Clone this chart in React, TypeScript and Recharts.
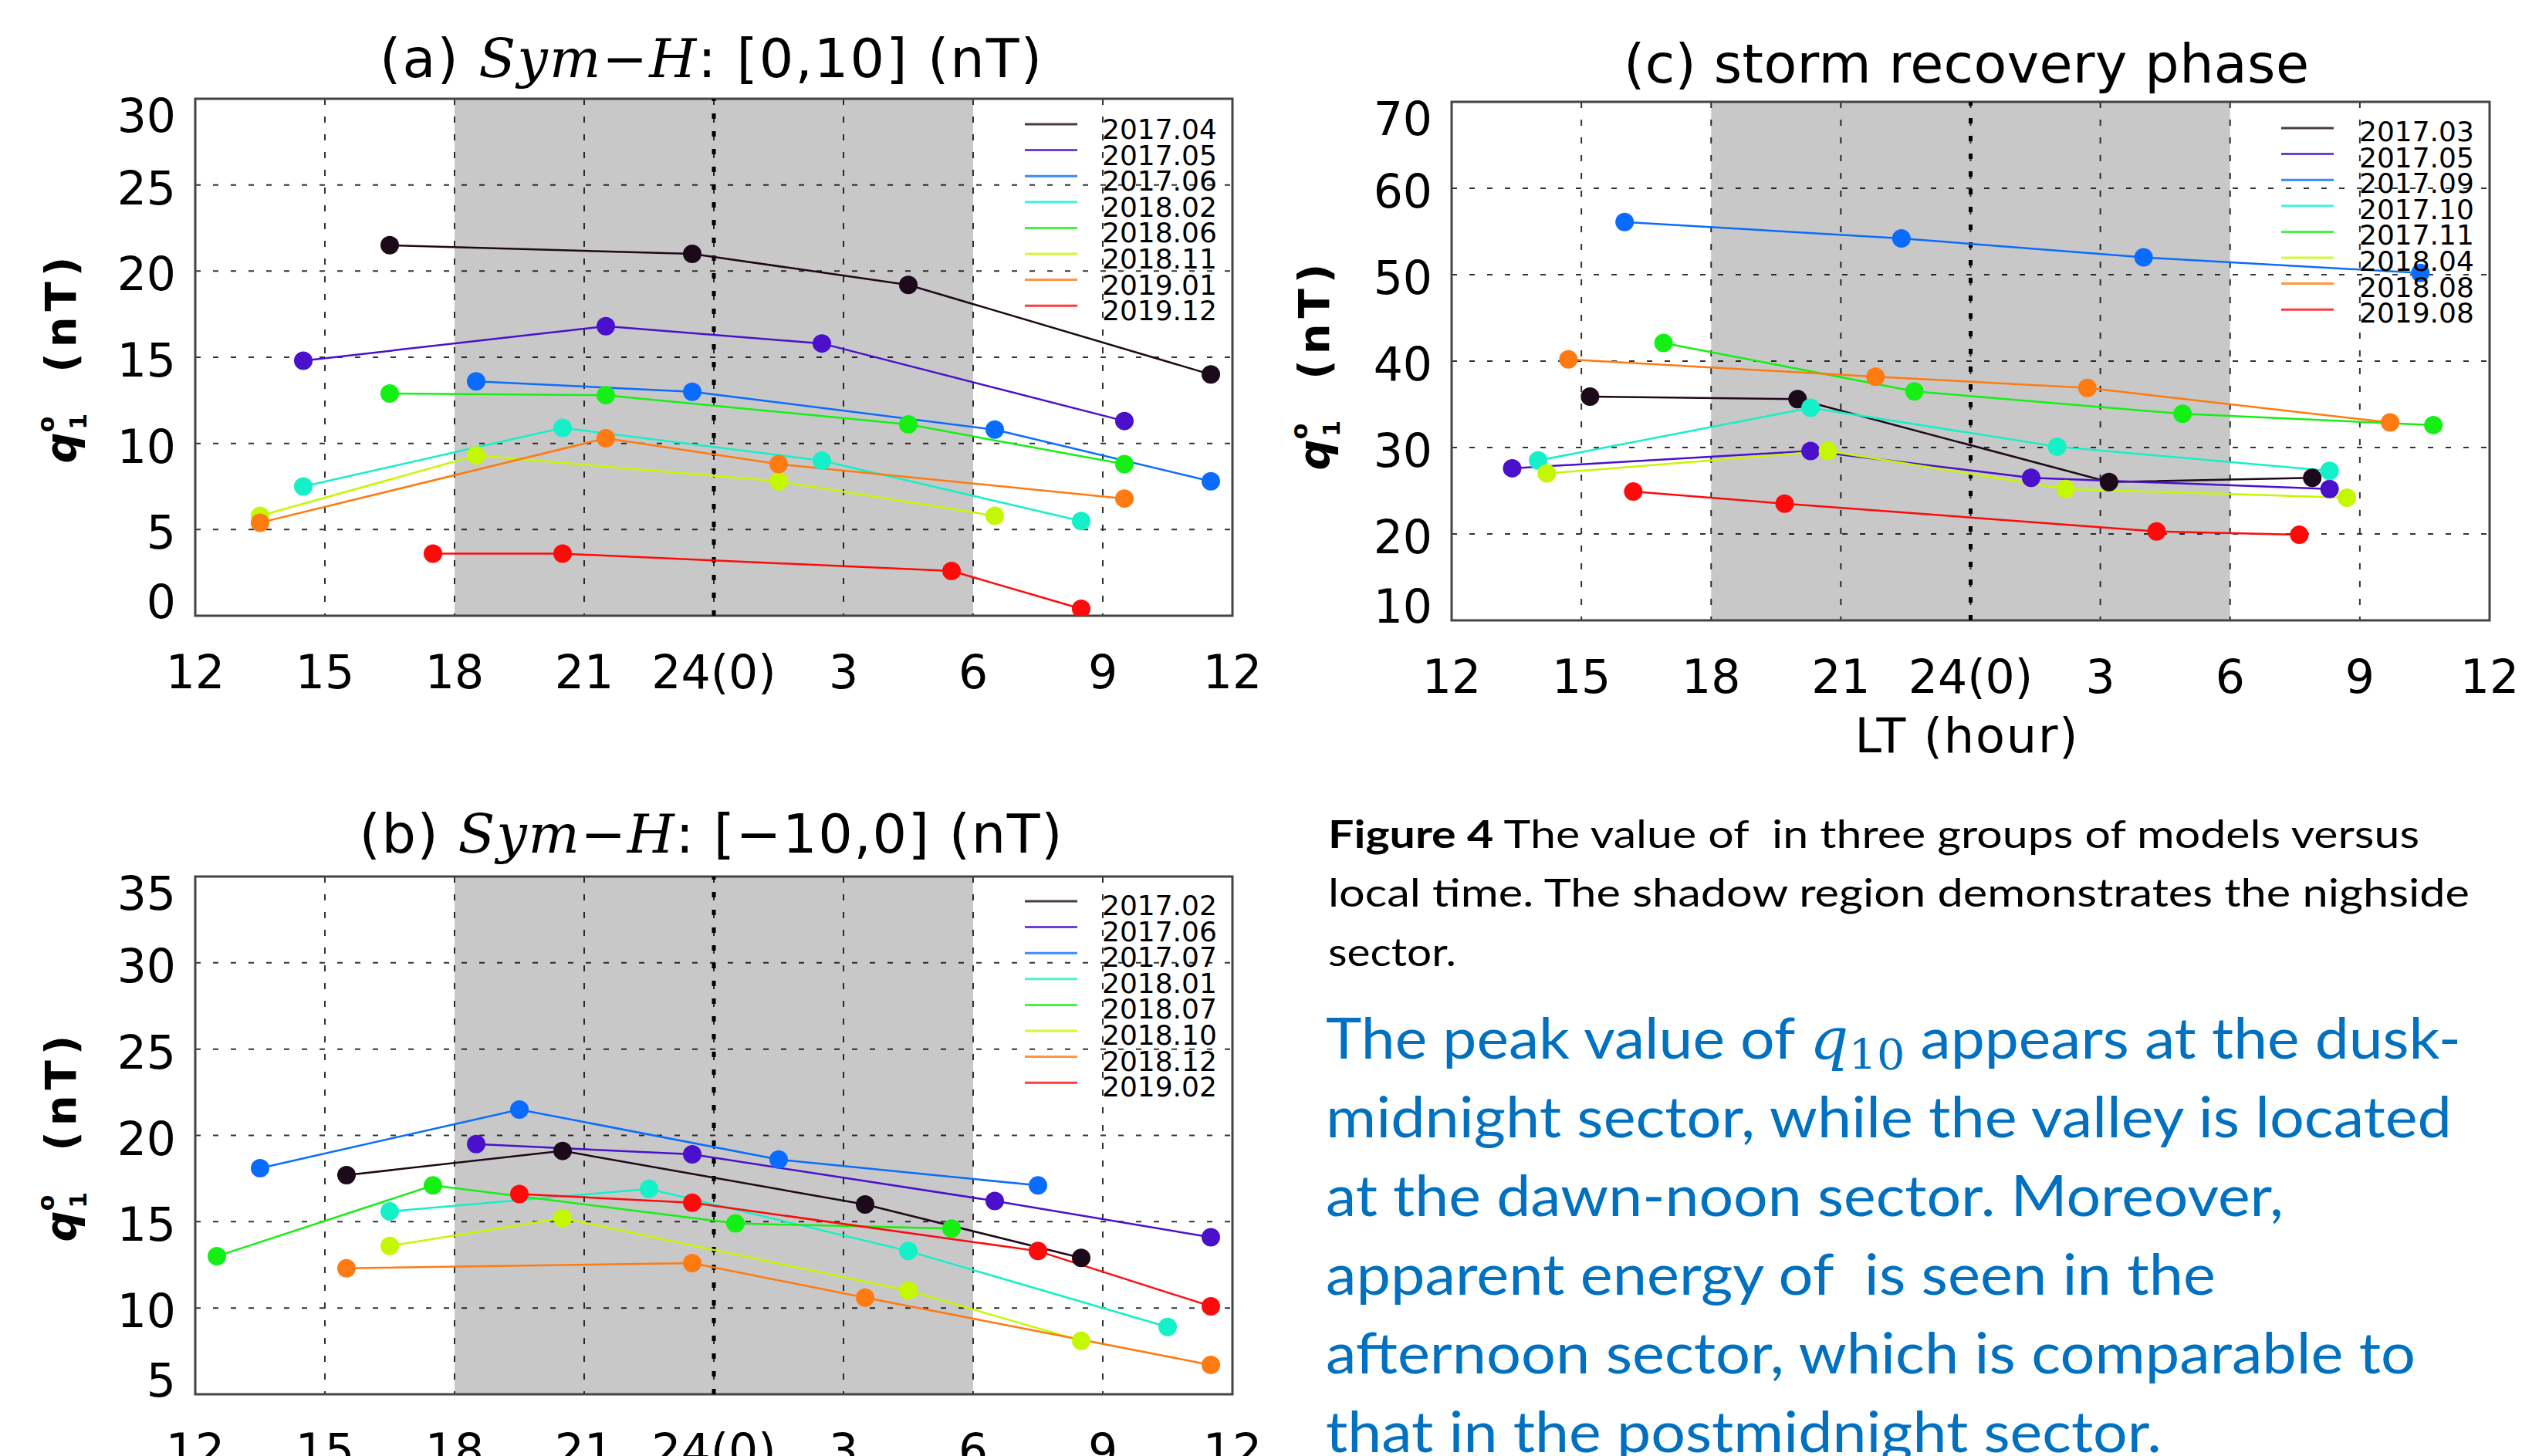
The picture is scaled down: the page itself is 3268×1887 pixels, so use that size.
import React from 'react';
import { LineChart, Line, XAxis, YAxis, CartesianGrid, ReferenceArea, ReferenceLine } from 'recharts';

// local time axis: 12 .. 24(0) .. 12 (next day hours stored as 24+h)
const hourTicks = [12, 15, 18, 21, 24, 27, 30, 33, 36];
const hourLabels = ['12', '15', '18', '21', '24(0)', '3', '6', '9', '12'];
const gridHours = [15, 18, 21, 24, 27, 30, 33];

const seriesColors = ['#1c0a1a', '#4a10cc', '#0a6cff', '#14f0c8', '#14f014', '#c4f800', '#ff7a10', '#ff0a0a'];

// (a) Sym-H: [0,10]
const aLabels = ['2017.04', '2017.05', '2017.06', '2018.02', '2018.06', '2018.11', '2019.01', '2019.12'];
const aHours = [
  [16.5, 23.5, 28.5, 35.5],
  [14.5, 21.5, 26.5, 33.5],
  [18.5, 23.5, 30.5, 35.5],
  [14.5, 20.5, 26.5, 32.5],
  [16.5, 21.5, 28.5, 33.5],
  [13.5, 18.5, 25.5, 30.5],
  [13.5, 21.5, 25.5, 33.5],
  [17.5, 20.5, 29.5, 32.5],
];
const aValues = [
  [21.5, 21.0, 19.2, 14.0],
  [14.8, 16.8, 15.8, 11.3],
  [13.6, 13.0, 10.8, 7.8],
  [7.5, 10.9, 9.0, 5.5],
  [12.9, 12.8, 11.1, 8.8],
  [5.8, 9.3, 7.8, 5.8],
  [5.4, 10.3, 8.8, 6.8],
  [3.6, 3.6, 2.6, 0.4],
];
const aTicks = [0, 5, 10, 15, 20, 25, 30];

// (b) Sym-H: [-10,0]
const bLabels = ['2017.02', '2017.06', '2017.07', '2018.01', '2018.07', '2018.10', '2018.12', '2019.02'];
const bHours = [
  [15.5, 20.5, 27.5, 32.5],
  [18.5, 23.5, 30.5, 35.5],
  [13.5, 19.5, 25.5, 31.5],
  [16.5, 22.5, 28.5, 34.5],
  [12.5, 17.5, 24.5, 29.5],
  [16.5, 20.5, 28.5, 32.5],
  [15.5, 23.5, 27.5, 35.5],
  [19.5, 23.5, 31.5, 35.5],
];
const bValues = [
  [17.7, 19.1, 16.0, 12.9],
  [19.5, 18.9, 16.2, 14.1],
  [18.1, 21.5, 18.6, 17.1],
  [15.6, 16.9, 13.3, 8.9],
  [13.0, 17.1, 14.9, 14.6],
  [13.6, 15.2, 11.0, 8.1],
  [12.3, 12.6, 10.6, 6.7],
  [16.6, 16.1, 13.3, 10.1],
];
const bTicks = [5, 10, 15, 20, 25, 30, 35];

// (c) storm recovery phase
const cLabels = ['2017.03', '2017.05', '2017.09', '2017.10', '2017.11', '2018.04', '2018.08', '2019.08'];
const cHours = [
  [15.2, 20.0, 27.2, 31.9],
  [13.4, 20.3, 25.4, 32.3],
  [16.0, 22.4, 28.0, 34.4],
  [14.0, 20.3, 26.0, 32.3],
  [16.9, 22.7, 28.9, 34.7],
  [14.2, 20.7, 26.2, 32.7],
  [14.7, 21.8, 26.7, 33.7],
  [16.2, 19.7, 28.3, 31.6],
];
const cValues = [
  [35.9, 35.6, 26.0, 26.5],
  [27.6, 29.6, 26.5, 25.2],
  [56.1, 54.2, 52.0, 50.2],
  [28.5, 34.6, 30.1, 27.3],
  [42.1, 36.5, 33.9, 32.6],
  [27.0, 29.6, 25.2, 24.2],
  [40.2, 38.2, 36.9, 32.9],
  [24.9, 23.5, 20.3, 19.9],
];
const cTicks = [10, 20, 30, 40, 50, 60, 70];

const axisFont = "'DejaVu Sans', 'Liberation Sans', sans-serif";
const serifFont = "'DejaVu Serif', 'Liberation Serif', serif";
const textFont = "Lato, 'Open Sans', sans-serif";

const XTick = (props: any) => {
  const { x, y, payload } = props;
  const i = hourTicks.indexOf(payload.value);
  return (
    <text x={x} y={y + 94} textAnchor="middle" fontFamily={axisFont} fontSize={60} fill="#000">
      {hourLabels[i]}
    </text>
  );
};

const makeYTick = (lo: number, hi: number) => (props: any) => {
  const { x, y, payload } = props;
  const v = payload.value;
  const dy = v === hi ? 43 : v === lo ? 3 : 25;
  return (
    <text x={x - 25} y={y + dy} textAnchor="end" fontFamily={axisFont} fontSize={60} fill="#000">
      {v}
    </text>
  );
};

interface PanelProps {
  left: number;
  top: number;
  width: number;
  height: number;
  margin: { top: number; right: number; left: number; bottom: number };
  yWidth: number;
  xHeight: number;
  labels: string[];
  hours: number[][];
  values: number[][];
  yTicks: number[];
  title: React.ReactNode;
  titleX: number;
  titleY: number;
  titleLen: number;
  yLabelX: number;
  yLabelY: number;
  legendLineX: number;
  legendTextX: number;
  legendY: number;
  legendDy: number;
  xLabel?: boolean;
}

const Panel = (p: PanelProps) => {
  const lo = p.yTicks[0];
  const hi = p.yTicks[p.yTicks.length - 1];
  const YTick = makeYTick(lo, hi);
  return (
    <div style={{ position: 'absolute', left: p.left, top: p.top, width: p.width, height: p.height }}>
      <LineChart width={p.width} height={p.height} margin={p.margin}>
        <XAxis
          type="number"
          dataKey="x"
          domain={[12, 36]}
          ticks={hourTicks}
          interval={0}
          allowDataOverflow
          height={p.xHeight}
          axisLine={false}
          tickLine={false}
          tickSize={0}
          tickMargin={0}
          tick={<XTick />}
        />
        <YAxis
          type="number"
          domain={[lo, hi]}
          ticks={p.yTicks}
          interval={0}
          allowDataOverflow
          width={p.yWidth}
          axisLine={false}
          tickLine={false}
          tickSize={0}
          tickMargin={0}
          tick={<YTick />}
        />
        <ReferenceArea x1={18} x2={30} fill="#000" fillOpacity={0.215} stroke="none" />
        <CartesianGrid horizontal={true} vertical={false} stroke="#333" strokeWidth={2} strokeDasharray="7 16" />
        <CartesianGrid horizontal={false} vertical={true} verticalValues={gridHours} stroke="#333" strokeWidth={2} strokeDasharray="8 15" />
        <ReferenceLine x={24} stroke="#000" strokeWidth={5} strokeDasharray="7 16" />
        <ReferenceArea x1={12} x2={36} y1={lo} y2={hi} fill="none" stroke="#444" strokeWidth={3} />
        {p.labels.map((name, i) => (
          <Line
            key={name}
            name={name}
            data={p.hours[i].map((h, j) => ({ x: h, y: p.values[i][j] }))}
            dataKey="y"
            stroke={seriesColors[i]}
            strokeWidth={2.5}
            dot={{ r: 12, fill: seriesColors[i], stroke: seriesColors[i], strokeWidth: 0 }}
            activeDot={false}
            isAnimationActive={false}
          />
        ))}
      </LineChart>
      <svg
        width={p.width}
        height={p.height}
        style={{ position: 'absolute', left: 0, top: 0, pointerEvents: 'none', overflow: 'visible' }}
      >
        <text
          x={p.titleX}
          y={p.titleY}
          textAnchor="middle"
          fontFamily={axisFont}
          fontSize={70}
          textLength={p.titleLen}
          lengthAdjust="spacing"
          xmlSpace="preserve"
        >
          {p.title}
        </text>
        <text
          transform={`translate(${p.yLabelX},${p.yLabelY}) rotate(-90)`}
          textAnchor="middle"
          fontFamily={axisFont}
          fontWeight="bold"
          fontSize={56}
          xmlSpace="preserve"
        >
          <tspan fontStyle="italic">q</tspan>
          <tspan fontSize={30} dy={-28}>o</tspan>
          <tspan fontSize={30} dx={-17} dy={42}>1</tspan>
          <tspan dy={-14} letterSpacing={7}>{'  (nT)'}</tspan>
        </text>
        {p.xLabel && (
          <text x={p.titleX} y={975} textAnchor="middle" fontFamily={axisFont} fontSize={62} textLength={289} lengthAdjust="spacing">
            LT (hour)
          </text>
        )}
        {p.labels.map((name, i) => {
          const ly = p.legendY + i * 33.6;
          return (
            <g key={name}>
              <line x1={p.legendLineX} x2={p.legendLineX + 68} y1={ly} y2={ly} stroke={seriesColors[i]} strokeOpacity={0.8} strokeWidth={3} />
              <text x={p.legendTextX} y={ly + p.legendDy} fontFamily={axisFont} fontSize={36} fill="#000">
                {name}
              </text>
            </g>
          );
        })}
      </svg>
    </div>
  );
};

const Caption = () => (
  <svg width={3268} height={1887} style={{ position: 'absolute', left: 0, top: 0, pointerEvents: 'none' }}>
    <g fontFamily={textFont} fontSize={50} fill="#000">
      <text x={1721} y={1099} textLength={1414} lengthAdjust="spacingAndGlyphs" xmlSpace="preserve">
        <tspan fontWeight="bold">Figure 4</tspan>
        {' The value of  in three groups of models versus'}
      </text>
      <text x={1721} y={1175} textLength={1479} lengthAdjust="spacingAndGlyphs">
        local time. The shadow region demonstrates the nighside
      </text>
      <text x={1721} y={1252} textLength={166} lengthAdjust="spacingAndGlyphs">
        sector.
      </text>
    </g>
    <g fontFamily={textFont} fontSize={74} fill="#0070c0">
      <text x={1718} y={1372} textLength={1471} lengthAdjust="spacingAndGlyphs" xmlSpace="preserve">
        {'The peak value of '}
        <tspan fontFamily={serifFont} fontStyle="italic">q</tspan>
        <tspan fontFamily={serifFont} fontSize={54} dy={14}>10</tspan>
        <tspan dy={-14}>{' appears at the dusk-'}</tspan>
      </text>
      <text x={1718} y={1474} textLength={1459} lengthAdjust="spacingAndGlyphs">
        midnight sector, while the valley is located
      </text>
      <text x={1718} y={1576} textLength={1241} lengthAdjust="spacingAndGlyphs">
        at the dawn-noon sector. Moreover,
      </text>
      <text x={1718} y={1678} textLength={1153} lengthAdjust="spacingAndGlyphs" xmlSpace="preserve">
        {'apparent energy of  is seen in the'}
      </text>
      <text x={1718} y={1780} textLength={1412} lengthAdjust="spacingAndGlyphs">
        afternoon sector, which is comparable to
      </text>
      <text x={1718} y={1882} textLength={1083} lengthAdjust="spacingAndGlyphs">
        that in the postmidnight sector.
      </text>
    </g>
  </svg>
);

const symH = (range: string, tag: string) => (
  <>
    {`(${tag}) `}
    <tspan fontFamily={serifFont} fontStyle="italic">Sym</tspan>
    <tspan fontFamily={serifFont}>−</tspan>
    <tspan fontFamily={serifFont} fontStyle="italic">H</tspan>
    {`: [${range}] (nT)`}
  </>
);

export default function App() {
  return (
    <div style={{ position: 'absolute', left: 0, top: 0, width: 3268, height: 1887, overflow: 'hidden', background: '#fff' }}>
      <style>{'body{margin:0;}'}</style>
      <Panel
        left={0}
        top={0}
        width={1640}
        height={940}
        margin={{ top: 128, right: 43, left: 0, bottom: 0 }}
        yWidth={253}
        xHeight={142}
        labels={aLabels}
        hours={aHours}
        values={aValues}
        yTicks={aTicks}
        title={symH('0,10', 'a')}
        titleX={921}
        titleY={100}
        titleLen={858}
        yLabelX={98}
        yLabelY={463}
        legendLineX={1328}
        legendTextX={1428}
        legendY={161}
        legendDy={19}
      />
      <Panel
        left={1640}
        top={0}
        width={1628}
        height={1000}
        margin={{ top: 132, right: 42, left: 0, bottom: 0 }}
        yWidth={241}
        xHeight={196}
        labels={cLabels}
        hours={cHours}
        values={cValues}
        yTicks={cTicks}
        title={'(c) storm recovery phase'}
        titleX={908}
        titleY={107}
        titleLen={888}
        yLabelX={82}
        yLabelY={472}
        legendLineX={1316}
        legendTextX={1417}
        legendY={166}
        legendDy={17}
        xLabel
      />
      <Panel
        left={0}
        top={1000}
        width={1640}
        height={887}
        margin={{ top: 136, right: 43, left: 0, bottom: 0 }}
        yWidth={253}
        xHeight={80}
        labels={bLabels}
        hours={bHours}
        values={bValues}
        yTicks={bTicks}
        title={symH('−10,0', 'b')}
        titleX={921}
        titleY={105}
        titleLen={911}
        yLabelX={98}
        yLabelY={472}
        legendLineX={1328}
        legendTextX={1428}
        legendY={168}
        legendDy={18}
      />
      <Caption />
    </div>
  );
}
